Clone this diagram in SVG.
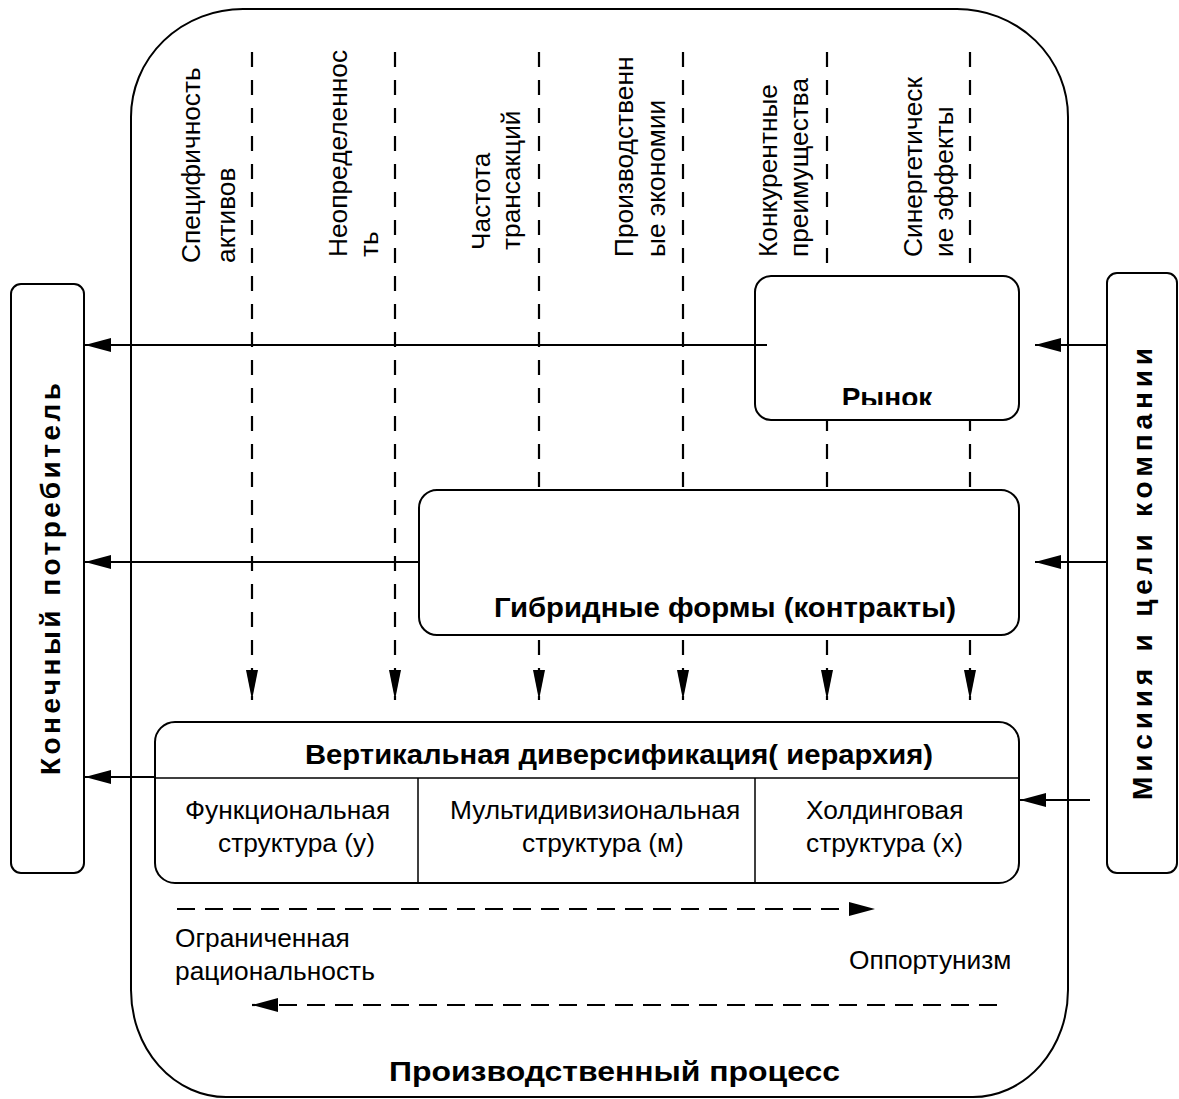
<svg xmlns="http://www.w3.org/2000/svg" width="1179" height="1099" viewBox="0 0 1179 1099">
<defs>
<style>
.frame{fill:none;stroke:#000;stroke-width:2}
.box{fill:#fff;stroke:#000;stroke-width:2}
.div{fill:none;stroke:#000;stroke-width:1.5}
.ln{fill:none;stroke:#000;stroke-width:2}
.dv{fill:none;stroke:#000;stroke-width:2.2;stroke-dasharray:15 13}
.dh{fill:none;stroke:#000;stroke-width:2.2;stroke-dasharray:18 10}
.t{font-family:"Liberation Sans",Arial,sans-serif;font-size:26.3px;fill:#000}
.b{font-family:"Liberation Sans",Arial,sans-serif;font-size:28px;font-weight:bold;fill:#000}
</style>
<marker id="ah" markerUnits="userSpaceOnUse" markerWidth="26" markerHeight="14" viewBox="0 0 26 14" refX="26" refY="7" orient="auto">
<path d="M0,0 L26,7 L0,14 Z" fill="#000"/>
</marker>
<marker id="ad" markerUnits="userSpaceOnUse" markerWidth="30" markerHeight="12" viewBox="0 0 30 12" refX="30" refY="6" orient="auto">
<path d="M0,0 L30,6 L0,12 Z" fill="#000"/>
</marker>
<clipPath id="rclip"><rect x="755" y="276" width="264" height="129"/></clipPath>
</defs>
<rect width="1179" height="1099" fill="#fff"/>

<g id="process">
<path class="frame" d="M243,9 H957 A111,108 0 0 1 1068,117 V990 A95,107 0 0 1 973,1097 H226 A95,107 0 0 1 131,990 V117 A112,108 0 0 1 243,9 Z"/>
<text class="b" x="389" y="1081" textLength="451" lengthAdjust="spacingAndGlyphs">Производственный процесс</text>
</g>

<g id="factors">
<g transform="translate(200,263) rotate(-90)"><text class="t" x="0" y="0">Специфичность</text></g>
<g transform="translate(235,263) rotate(-90)"><text class="t" x="0" y="0">активов</text></g>
<g transform="translate(347,257) rotate(-90)"><text class="t" x="0" y="0">Неопределеннос</text></g>
<g transform="translate(378,257) rotate(-90)"><text class="t" x="0" y="0">ть</text></g>
<g transform="translate(490,250) rotate(-90)"><text class="t" x="0" y="0">Частота</text></g>
<g transform="translate(520,250) rotate(-90)"><text class="t" x="0" y="0">трансакций</text></g>
<g transform="translate(633,257) rotate(-90)"><text class="t" x="0" y="0">Производственн</text></g>
<g transform="translate(665,257) rotate(-90)"><text class="t" x="0" y="0">ые экономии</text></g>
<g transform="translate(777,257) rotate(-90)"><text class="t" x="0" y="0">Конкурентные</text></g>
<g transform="translate(808,257) rotate(-90)"><text class="t" x="0" y="0">преимущества</text></g>
<g transform="translate(922,257) rotate(-90)"><text class="t" x="0" y="0">Синергетическ</text></g>
<g transform="translate(953,257) rotate(-90)"><text class="t" x="0" y="0">ие эффекты</text></g>
</g>

<g id="connectors-dashed">
<path class="dv" d="M252,52 V700" marker-end="url(#ad)"/>
<path class="dv" d="M395,52 V700" marker-end="url(#ad)"/>
<path class="dv" d="M539,52 V700" marker-end="url(#ad)"/>
<path class="dv" d="M683,52 V700" marker-end="url(#ad)"/>
<path class="dv" d="M827,52 V700" marker-end="url(#ad)"/>
<path class="dv" d="M970,52 V700" marker-end="url(#ad)"/>
<path class="dh" d="M177,909 H875" marker-end="url(#ah)"/>
<path class="dh" d="M997,1005 H252" marker-end="url(#ah)"/>
</g>

<g id="consumer">
<rect class="box" x="11" y="284" width="73" height="589" rx="10"/>
<g transform="translate(60,775) rotate(-90)"><text class="b" x="0" y="0" textLength="392" lengthAdjust="spacing">Конечный потребитель</text></g>
</g>

<g id="mission">
<rect class="box" x="1107" y="273" width="70" height="600" rx="10"/>
<g transform="translate(1152,800) rotate(-90)"><text class="b" x="0" y="0" textLength="452" lengthAdjust="spacing">Мисиия и цели компании</text></g>
</g>

<g id="market">
<rect class="box" x="755" y="276" width="264" height="144" rx="16"/>
<text class="b" x="887" y="407" text-anchor="middle" clip-path="url(#rclip)">Рынок</text>
</g>

<g id="hybrid">
<rect class="box" x="419" y="490" width="600" height="145" rx="18"/>
<text class="b" x="494" y="617" textLength="462" lengthAdjust="spacingAndGlyphs">Гибридные формы (контракты)</text>
</g>

<g id="hierarchy">
<rect class="box" x="155" y="722" width="864" height="161" rx="20"/>
<path class="div" d="M155,778 H1019 M418,778 V883 M755,778 V883"/>
<text class="b" x="305" y="764" textLength="628" lengthAdjust="spacingAndGlyphs">Вертикальная диверсификация( иерархия)</text>
<text class="t" x="185" y="819">Функциональная</text>
<text class="t" x="218" y="852">структура (у)</text>
<text class="t" x="450" y="819">Мультидивизиональная</text>
<text class="t" x="522" y="852">структура (м)</text>
<text class="t" x="806" y="819">Холдинговая</text>
<text class="t" x="806" y="852">структура (х)</text>
</g>

<g id="labels">
<text class="t" x="175" y="947">Ограниченная</text>
<text class="t" x="175" y="980">рациональность</text>
<text class="t" x="849" y="969">Оппортунизм</text>
</g>

<g id="connectors">
<path class="ln" d="M767,345 H85" marker-end="url(#ah)"/>
<path class="ln" d="M419,562 H85" marker-end="url(#ah)"/>
<path class="ln" d="M155,777 H85" marker-end="url(#ah)"/>
<path class="ln" d="M1107,345 H1035" marker-end="url(#ah)"/>
<path class="ln" d="M1107,562 H1035" marker-end="url(#ah)"/>
<path class="ln" d="M1090,800 H1020" marker-end="url(#ah)"/>
</g>
</svg>
